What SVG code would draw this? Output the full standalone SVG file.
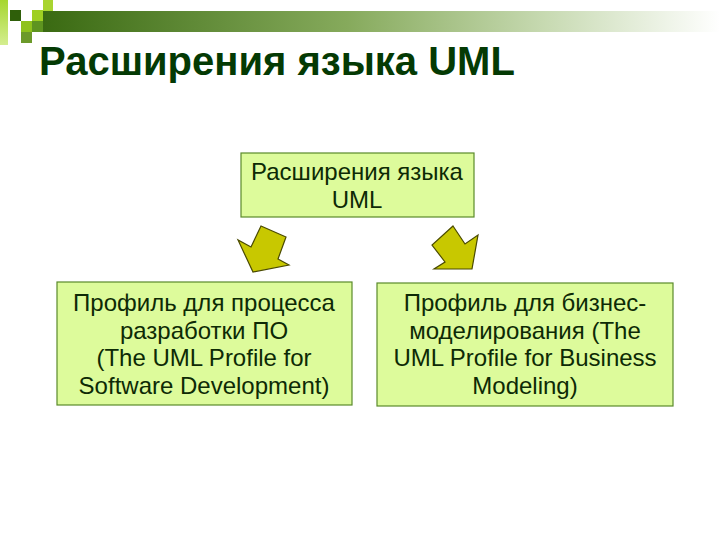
<svg xmlns="http://www.w3.org/2000/svg" width="720" height="540" viewBox="0 0 720 540">
<defs>
<linearGradient id="bar" x1="0" y1="0" x2="1" y2="0">
<stop offset="0" stop-color="#3a6a12"/>
<stop offset="0.45" stop-color="#86aa5c"/>
<stop offset="0.75" stop-color="#c9dbb4"/>
<stop offset="1" stop-color="#ffffff"/>
</linearGradient>
<linearGradient id="col" x1="0" y1="0" x2="0" y2="1">
<stop offset="0" stop-color="#a6d62e"/>
<stop offset="1" stop-color="#d4ee90"/>
</linearGradient>
<style>
.box{fill:#ddfb9b;stroke:#5a8a2a;stroke-width:1.2}
.t{font-family:"Liberation Sans",Arial,sans-serif;font-size:24px;fill:#0d2a05;text-anchor:middle}
.title{font-family:"Liberation Sans",Arial,sans-serif;font-size:40px;font-weight:bold;fill:#043a04}
.arr{fill:#c8c800;stroke:#4a4a00;stroke-width:1.2;stroke-linejoin:miter}
</style>
</defs>
<g id="header">
<rect x="43" y="11" width="677" height="21" fill="url(#bar)"/>
<rect x="0" y="0" width="8" height="45" fill="url(#col)"/>
<rect x="10" y="10" width="11" height="11" fill="#2f5f0a"/>
<rect x="32" y="10" width="11" height="11" fill="#9fcf22"/>
<rect x="43" y="0" width="10" height="11" fill="#a8d430"/>
<rect x="21" y="21" width="11" height="11" fill="#8fc21c"/>
<rect x="32" y="21" width="11" height="11" fill="#5e9420"/>
<rect x="21" y="32" width="11" height="11" fill="#6c9a2a"/>
<text class="title" x="39" y="75">Расширения языка UML</text>
</g>
<g id="root">
<rect class="box" x="241" y="153" width="233" height="64"/>
<text class="t" x="357" y="180">Расширения языка</text>
<text class="t" x="357" y="208">UML</text>
</g>
<g id="dev">
<rect class="box" x="57" y="282" width="295" height="123"/>
<text class="t" x="204" y="311">Профиль для процесса</text>
<text class="t" x="204" y="338.5">разработки ПО</text>
<text class="t" x="204" y="366">(The UML Profile for</text>
<text class="t" x="204" y="393.5">Software Development)</text>
</g>
<g id="business">
<rect class="box" x="377" y="283" width="296" height="123"/>
<text class="t" x="525" y="311">Профиль для бизнес-</text>
<text class="t" x="525" y="338.5">моделирования (The</text>
<text class="t" x="525" y="366">UML Profile for Business</text>
<text class="t" x="525" y="393.5">Modeling)</text>
</g>
<g id="connectors">
<polygon class="arr" points="261,226 286,237 278,259 289,265 253,272 238,240 251,247"/>
<polygon class="arr" points="453,226 465,244 478,235 472,269 434,269 445,262 432,245"/>
</g>
</svg>
